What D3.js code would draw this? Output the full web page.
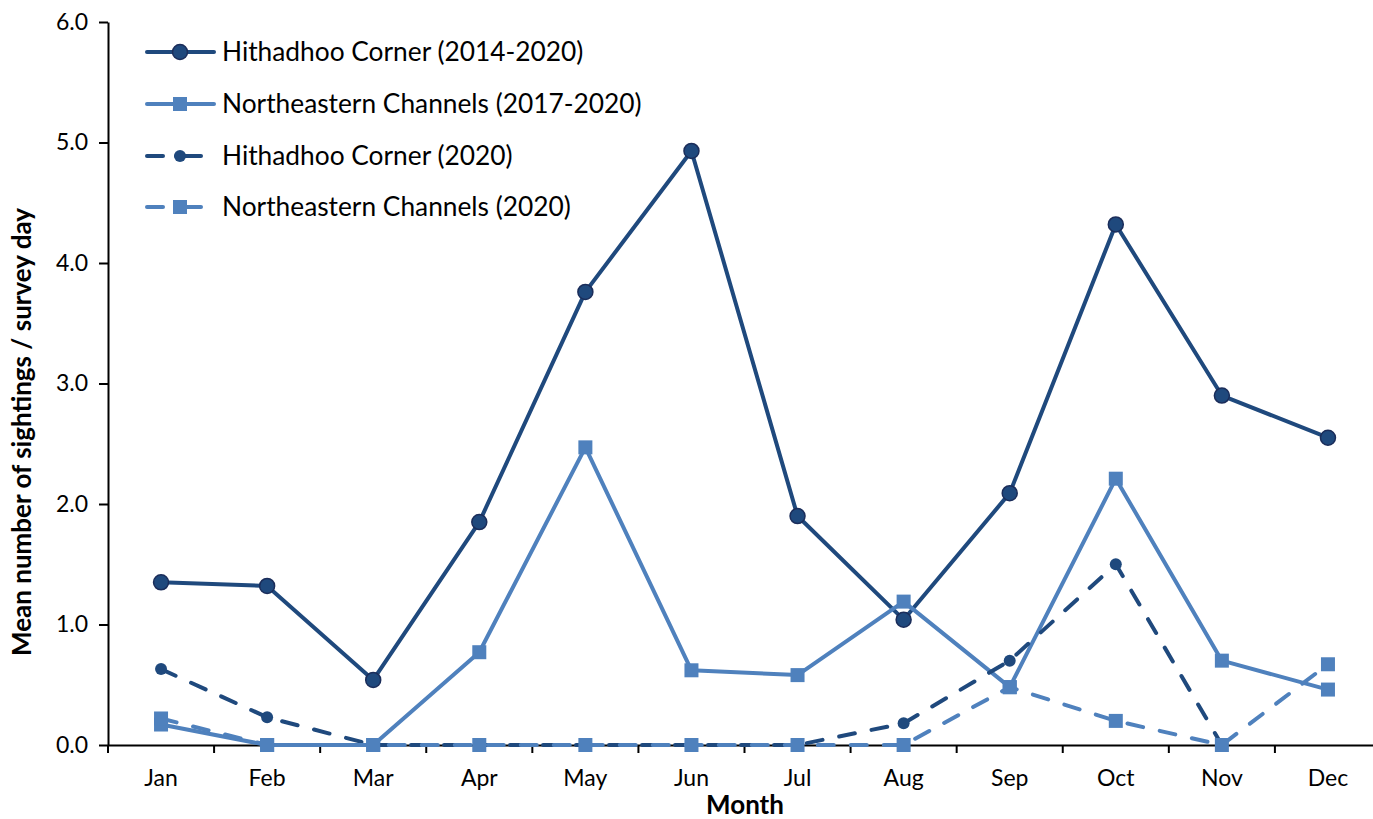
<!DOCTYPE html>
<html>
<head>
<meta charset="utf-8">
<script src="https://cdn.jsdelivr.net/npm/d3@7"></script>
<style>
  html, body { margin: 0; padding: 0; background: #fff; }
  svg { display: block; font-family: Lato, "Open Sans", sans-serif; }
</style>
</head>
<body>
<svg id="chart" width="1373" height="819"></svg>
<script>
const months = ["Jan","Feb","Mar","Apr","May","Jun","Jul","Aug","Sep","Oct","Nov","Dec"];
const hcAll = [1.35, 1.32, 0.54, 1.85, 3.76, 4.93, 1.90, 1.04, 2.09, 4.32, 2.90, 2.55];
const neAll = [0.17, 0.00, 0.00, 0.77, 2.47, 0.62, 0.58, 1.19, 0.48, 2.21, 0.70, 0.46];
const hc2020 = [0.63, 0.23, 0.00, 0.00, 0.00, 0.00, 0.00, 0.18, 0.70, 1.50, 0.00, null];
const ne2020 = [0.22, 0.00, 0.00, 0.00, 0.00, 0.00, 0.00, 0.00, 0.48, 0.20, 0.00, 0.67];
const yTicks = [0, 1, 2, 3, 4, 5, 6];
const seriesNames = ["Hithadhoo Corner (2014-2020)", "Northeastern Channels (2017-2020)", "Hithadhoo Corner (2020)", "Northeastern Channels (2020)"];

const DARK = "#1f497d", LIGHT = "#4f81bd", OUTLINE = "#1b2d5a";
const series = [
  {name: seriesNames[0], values: hcAll, color: DARK, dashed: false, marker: "circle", r: 7.5},
  {name: seriesNames[1], values: neAll, color: LIGHT, dashed: false, marker: "square", r: 7},
  {name: seriesNames[2], values: hc2020, color: DARK, dashed: true, marker: "circle", r: 6},
  {name: seriesNames[3], values: ne2020, color: LIGHT, dashed: true, marker: "square", r: 7}
];

const svg = d3.select("#chart");
const x = d3.scaleBand().domain(months).range([108, 1381]).paddingInner(0).paddingOuter(0);
const y = d3.scaleLinear().domain([0, 6]).range([745, 22]);

// axes
const xAxis = svg.append("g").attr("transform", "translate(0,745)")
  .call(d3.axisBottom(x).tickSize(0).tickPadding(25));
xAxis.select(".domain").attr("stroke", "#000").attr("stroke-width", 2);
xAxis.selectAll("text").attr("font-size", 23).attr("fill", "#000").attr("font-family", "Lato");
// ticks between categories
xAxis.selectAll(".sep").data(months).enter().append("line")
  .attr("x1", d => x(d)).attr("x2", d => x(d)).attr("y1", 0).attr("y2", 8)
  .attr("stroke", "#000").attr("stroke-width", 2);

const yAxis = svg.append("g").attr("transform", "translate(108,0)")
  .call(d3.axisLeft(y).tickValues(yTicks).tickFormat(d3.format(".1f")).tickSize(9).tickPadding(11).tickSizeOuter(0));
yAxis.select(".domain").attr("stroke", "#000").attr("stroke-width", 2);
yAxis.selectAll(".tick line").attr("stroke", "#000").attr("stroke-width", 2);
yAxis.selectAll("text").attr("font-size", 23).attr("fill", "#000").attr("font-family", "Lato");

svg.append("text").attr("x", 745).attr("y", 814).attr("text-anchor", "middle")
  .attr("font-size", 26).attr("font-weight", "bold").attr("fill", "#000").text("Month");
svg.append("text").attr("transform", "translate(31,432) rotate(-90)").attr("text-anchor", "middle")
  .attr("font-size", 26).attr("font-weight", "bold").attr("fill", "#000").text("Mean number of sightings / survey day");

const cx = d => x(d) + x.bandwidth() / 2;
const line = d3.line().defined(v => v !== null).x((v, i) => cx(months[i])).y(v => y(v));

function drawMarker(g, s, px, py) {
  if (s.marker === "circle") {
    g.append("circle").attr("cx", px).attr("cy", py).attr("r", s.r)
      .attr("fill", s.color).attr("stroke", s.dashed ? "none" : OUTLINE).attr("stroke-width", s.dashed ? 0 : 1.5);
  } else {
    g.append("rect").attr("x", px - s.r).attr("y", py - s.r).attr("width", 2 * s.r).attr("height", 2 * s.r)
      .attr("fill", s.color);
  }
}

series.forEach(s => {
  const g = svg.append("g");
  g.append("path").datum(s.values).attr("d", line).attr("fill", "none")
    .attr("stroke", s.color).attr("stroke-width", 4).attr("stroke-linejoin", "round")
    .attr("stroke-linecap", "round")
    .attr("stroke-dasharray", s.dashed ? "16,17" : null);
  s.values.forEach((v, i) => { if (v !== null) drawMarker(g, s, cx(months[i]), y(v)); });
});

// legend
const legRows = [52, 104, 156, 207];
series.forEach((s, i) => {
  const g = svg.append("g");
  const ly = legRows[i];
  if (s.dashed) {
    g.append("line").attr("x1", 147).attr("x2", 163).attr("y1", ly).attr("y2", ly)
      .attr("stroke", s.color).attr("stroke-width", 4).attr("stroke-linecap", "round");
    g.append("line").attr("x1", 176).attr("x2", 201).attr("y1", ly).attr("y2", ly)
      .attr("stroke", s.color).attr("stroke-width", 4).attr("stroke-linecap", "round");
    drawMarker(g, s, 180, ly);
  } else {
    g.append("line").attr("x1", 147).attr("x2", 214).attr("y1", ly).attr("y2", ly)
      .attr("stroke", s.color).attr("stroke-width", 4).attr("stroke-linecap", "round");
    drawMarker(g, s, 180, ly);
  }
  g.append("text").attr("x", 222).attr("y", ly).attr("dy", "0.35em")
    .attr("font-size", 26.3).attr("fill", "#000").text(s.name);
});
</script>
</body>
</html>
